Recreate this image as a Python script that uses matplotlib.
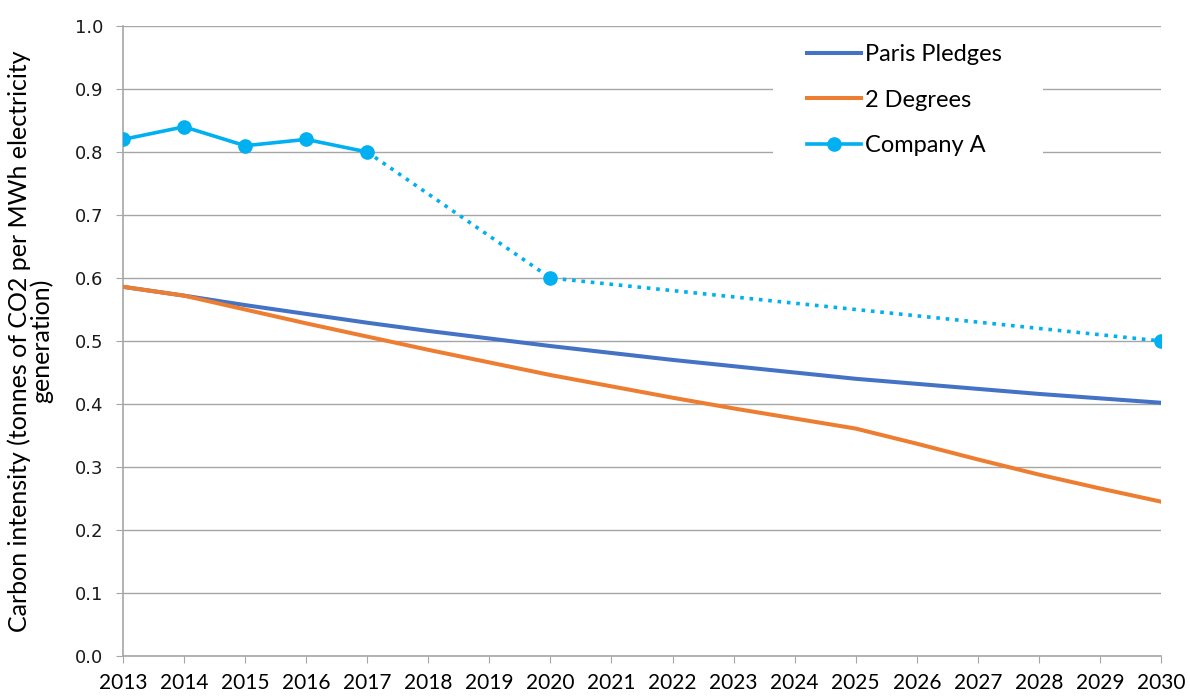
import matplotlib.pyplot as plt
from matplotlib.patches import Rectangle

# data
years = list(range(2013, 2031))
paris = [0.586, 0.572, 0.557, 0.543, 0.529, 0.516, 0.504, 0.492, 0.481,
         0.470, 0.460, 0.450, 0.440, 0.432, 0.424, 0.416, 0.409, 0.402]
two_deg = [0.586, 0.572, 0.550, 0.528, 0.507, 0.486, 0.466, 0.446, 0.428,
           0.410, 0.393, 0.377, 0.361, 0.337, 0.312, 0.288, 0.266, 0.245]
comp_years = [2013, 2014, 2015, 2016, 2017]
comp_vals = [0.82, 0.84, 0.81, 0.82, 0.80]
target_years = [2017, 2020, 2030]
target_vals = [0.80, 0.60, 0.50]

BLUE = '#4472C4'
ORANGE = '#ED7D31'
CYAN = '#00B0F0'
GRID = '#A6A6A6'

W, H = 1190, 696
L, R, T, B = 123, 1161, 26, 656
fig = plt.figure(figsize=(W / 100, H / 100), dpi=100)
ax = fig.add_axes([L / W, 1 - B / H, (R - L) / W, (B - T) / H])

ax.plot(years, paris, color=BLUE, lw=2.9, label='Paris Pledges', zorder=3)
ax.plot(years, two_deg, color=ORANGE, lw=2.9, label='2 Degrees', zorder=3)
ax.plot(comp_years, comp_vals, color=CYAN, lw=2.6, marker='o', ms=9.5,
        label='Company A', zorder=4)
ax.plot(target_years, target_vals, color=CYAN, lw=2.6, ls=(0, (1, 1.6)),
        zorder=4)
ax.plot(target_years[1:], target_vals[1:], color=CYAN, ls='none',
        marker='o', ms=9.5, zorder=5)

ax.set_xlim(2013, 2030)
ax.set_ylim(0, 1.0)
ax.set_xticks(years)
ax.set_yticks([i / 10 for i in range(11)])
ax.set_yticklabels([f'{i / 10:.1f}' for i in range(11)], fontsize=13,
                   family='DejaVu Sans', color='#1a1a1a')
ax.set_xticklabels([str(y) for y in years], fontsize=15, family='Lato')
ax.tick_params(axis='x', length=5, color=GRID, pad=7)
ax.tick_params(axis='y', length=5, color=GRID, pad=9)

ax.grid(axis='y', color=GRID, lw=1)
ax.set_axisbelow(True)
for s in ['top', 'right']:
    ax.spines[s].set_visible(False)
for s in ['left', 'bottom']:
    ax.spines[s].set_color(GRID)
    ax.spines[s].set_linewidth(1.2)

ax.set_ylabel('Carbon intensity (tonnes of CO2 per MWh electricity\ngeneration)',
              fontsize=18, family='Lato', labelpad=16, linespacing=0.9)

# white box behind the legend (hides the gridlines like the original)
ax.add_patch(Rectangle(((773 - L) / (R - L), (B - 165) / (B - T)),
                       (1043 - 773) / (R - L), (165 - 32) / (B - T),
                       transform=ax.transAxes, facecolor='white',
                       edgecolor='none', zorder=2))

leg = ax.legend(loc='upper left',
                bbox_to_anchor=((807 - L) / (R - L), (B - 44) / (B - T)),
                prop={'family': 'Lato', 'size': 17},
                frameon=False, handlelength=2.3, handletextpad=0.17,
                labelspacing=1.04, borderpad=0.0, borderaxespad=0.0)

fig.savefig('out.png', dpi=100)
